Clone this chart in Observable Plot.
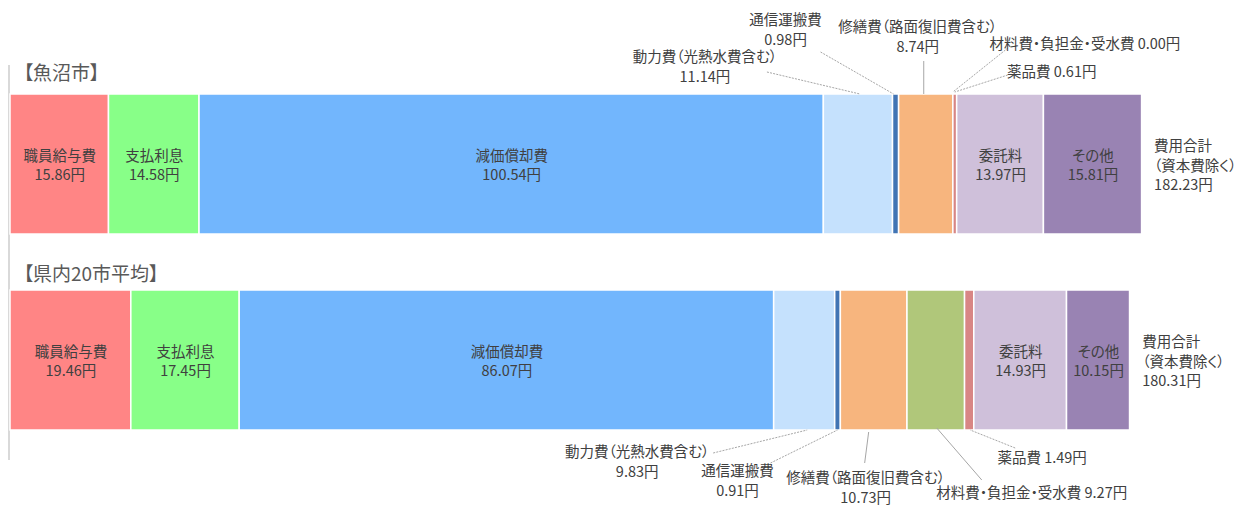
<!DOCTYPE html>
<html><head><meta charset="utf-8">
<script src="https://cdn.jsdelivr.net/npm/d3@7"></script>
<script src="https://cdn.jsdelivr.net/npm/@observablehq/plot@0.6"></script>
<style>
html,body{margin:0;padding:0;background:#fff;}
svg text{font-feature-settings:"palt";}
</style>
</head><body><div id="chart"></div>
<script>
// ---- data ----
const groups = ["魚沼市", "県内20市平均"];
const groupTitles = ["【魚沼市】", "【県内20市平均】"];
const categories = ["職員給与費", "支払利息", "減価償却費", "動力費（光熱水費含む）", "通信運搬費", "修繕費（路面復旧費含む）", "材料費・負担金・受水費", "薬品費", "委託料", "その他"];
const uonumaValues = [15.86, 14.58, 100.54, 11.14, 0.98, 8.74, 0.00, 0.61, 13.97, 15.81];
const averageValues = [19.46, 17.45, 86.07, 9.83, 0.91, 10.73, 9.27, 1.49, 14.93, 10.15];
const totals = [182.23, 180.31];
const totalLabel = ["費用合計", "（資本費除く）"];
const colors = ["#ff8585", "#88ff88", "#72b6fd", "#c5e1fd", "#4174b4", "#f7b57e", "#b0c77a", "#d88685", "#cfc0da", "#9983b3"];
const insideLabels = ["職員給与費", "支払利息", "減価償却費", "委託料", "その他"];

const seriesByGroup = [uonumaValues, averageValues];
const rows = [];
groups.forEach((g, gi) => categories.forEach((c, ci) => rows.push({group: g, category: c, value: seriesByGroup[gi][ci]})));
const yen = v => `${v.toFixed(2)}円`;

// ---- callout layout (pixel offsets from the segment's mid point on the bar edge) ----
const calloutLayout = [
  {group: "魚沼市", category: "動力費（光熱水費含む）", side: "top", two: true, lx: -153, ly: -37, sx: -91, sy: -22, ex: 2, ey: 0, dash: true},
  {group: "魚沼市", category: "通信運搬費", side: "top", two: true, lx: -110, ly: -74, sx: -75, sy: -42, ex: -2, ey: 0, dash: true},
  {group: "魚沼市", category: "修繕費（路面復旧費含む）", side: "top", two: true, lx: -8, ly: -67, sx: -2, sy: -33, ex: -2, ey: 0, dash: false},
  {group: "魚沼市", category: "材料費・負担金・受水費", side: "top", two: false, lx: 132, ly: -50, sx: 55, sy: -46, ex: 0, ey: -2, dash: true},
  {group: "魚沼市", category: "薬品費", side: "top", two: false, lx: 97, ly: -22, sx: 53, sy: -19, ex: 0, ey: -2, dash: true},
  {group: "県内20市平均", category: "動力費（光熱水費含む）", side: "bottom", two: true, lx: -167, ly: 22, sx: -91, sy: 23, ex: 3, ey: 0, dash: true},
  {group: "県内20市平均", category: "通信運搬費", side: "bottom", two: true, lx: -100, ly: 41, sx: -67, sy: 33, ex: 0, ey: 0, dash: true},
  {group: "県内20市平均", category: "修繕費（路面復旧費含む）", side: "bottom", two: true, lx: -8, ly: 48, sx: -9, sy: 33, ex: -5, ey: 2, dash: false},
  {group: "県内20市平均", category: "材料費・負担金・受水費", side: "bottom", two: false, lx: 96, ly: 63, sx: 46, sy: 50, ex: 1, ey: -2, dash: false},
  {group: "県内20市平均", category: "薬品費", side: "bottom", two: false, lx: 73, ly: 28, sx: 46, sy: 18, ex: 1, ey: 0, dash: true}
];

const font = `"Noto Sans CJK JP", "Noto Sans", sans-serif`;
const textColor = "#404040";
const fs = 14.5;

const plot = Plot.plot({
  width: 1251, height: 506,
  marginLeft: 10, marginRight: 0, marginTop: 65, marginBottom: 46,
  style: {fontFamily: font, fontSize: `${fs}px`, color: textColor, background: "#fff", overflow: "visible"},
  x: {domain: [0, 199.85], axis: null},
  y: {domain: groups, range: [94, 430.5], paddingInner: 0.2875, paddingOuter: 0, axis: null},
  color: {domain: categories, range: colors},
  marks: [
    Plot.ruleX([0], {stroke: "#d9d9d9", strokeWidth: 2, dx: -1.5}),
    Plot.barX(rows, {x: "value", y: "group", fill: "category", stroke: "#fff", strokeWidth: 1.5}),
    Plot.text(rows, Plot.stackX({
      x: "value", y: "group",
      text: d => insideLabels.includes(d.category) ? `${d.category}\n${yen(d.value)}` : null,
      fill: textColor, fontSize: fs, lineHeight: 1.33
    })),
    Plot.text([groups[0]], {x: 0, y: d => d, text: () => groupTitles[0], textAnchor: "start", dx: 13, dy: -91, fontSize: 19, fill: "#595959"}),
    Plot.text([groups[1]], {x: 0, y: d => d, text: () => groupTitles[1], textAnchor: "start", dx: 13, dy: -86, fontSize: 19, fill: "#595959"}),
    Plot.text(groups, {
      x: (d, i) => totals[i], y: d => d,
      text: (d, i) => `${totalLabel[0]}\n${totalLabel[1]}\n${yen(totals[i])}`,
      textAnchor: "start", dx: 12, lineHeight: 1.33, fill: textColor, fontSize: fs
    })
  ]
});

document.getElementById("chart").appendChild(plot);

// ---- callouts drawn with the plot's own scales ----
const xs = plot.scale("x"), ys = plot.scale("y");
const svg = d3.select(plot);
const layer = svg.append("g");
for (const c of calloutLayout) {
  const gi = groups.indexOf(c.group);
  const vals = seriesByGroup[gi];
  const ci = categories.indexOf(c.category);
  const start = d3.sum(vals.slice(0, ci));
  const ax = xs.apply(start + vals[ci] / 2);
  const bandTop = ys.apply(c.group);
  const ay = c.side === "top" ? bandTop : bandTop + ys.bandwidth;
  layer.append("line")
    .attr("x1", ax + c.sx).attr("y1", ay + c.sy)
    .attr("x2", ax + c.ex).attr("y2", ay + c.ey)
    .attr("stroke", "#a6a6a6").attr("stroke-width", 1)
    .attr("stroke-dasharray", c.dash ? "2 1.2" : null);
  const lines = c.two ? [c.category, yen(vals[ci])] : [`${c.category} ${yen(vals[ci])}`];
  const t = layer.append("text")
    .attr("text-anchor", "middle")
    .attr("font-family", font).attr("font-size", fs).attr("fill", textColor);
  lines.forEach((s, k) => {
    t.append("tspan").attr("x", ax + c.lx).attr("y", ay + c.ly + k * 20).attr("dy", "0.35em").text(s);
  });
}
</script>
</body></html>
